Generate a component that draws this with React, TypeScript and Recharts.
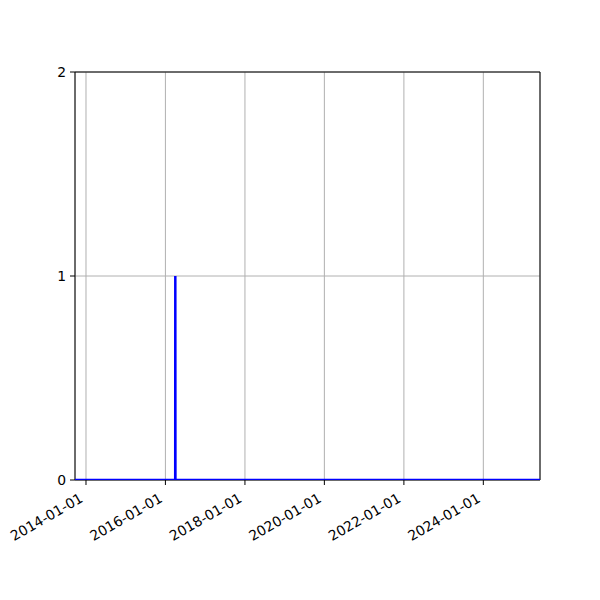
import React from "react";
import {
  LineChart,
  Line,
  XAxis,
  YAxis,
  CartesianGrid,
  ReferenceArea,
} from "recharts";

// dates and values
const dates = ["2013-09-22", "2016-03-31", "2016-04-01", "2016-04-02", "2025-06-05"];
const counts = [0, 0, 1, 0, 0];
const xTicks = ["2014-01-01", "2016-01-01", "2018-01-01", "2020-01-01", "2022-01-01", "2024-01-01"];
const yTicks = [0, 1, 2];

const toTime = (d: string) => Date.parse(d + "T00:00:00Z");

const data = dates.map((d, i) => ({ t: toTime(d), v: counts[i] }));
const xMin = toTime(dates[0]);
const xMax = toTime(dates[dates.length - 1]);

const fmt = (t: number) => new Date(t).toISOString().slice(0, 10);

const DateTick = (props: any) => {
  const { x, y, payload } = props;
  return (
    <g transform={`translate(${x - 2},${y + 16})`}>
      <text
        x={0}
        y={0}
        textAnchor="end"
        fontSize={13.9}
        fontFamily="DejaVu Sans"
        fill="#000"
        transform="rotate(-30)"
      >
        {fmt(payload.value)}
      </text>
    </g>
  );
};

const App = () => {
  return (
    <div style={{ position: "absolute", left: 0, top: 0 }}>
      <LineChart
        width={600}
        height={600}
        data={data}
        margin={{ top: 72, right: 60, left: 15, bottom: 90 }}
      >
        <CartesianGrid stroke="#b0b0b0" strokeWidth={1} />
        <ReferenceArea
          x1={xMin}
          x2={xMax}
          y1={0}
          y2={2}
          fill="none"
          stroke="#000"
          strokeWidth={1}
        />
        <XAxis
          dataKey="t"
          type="number"
          scale="time"
          domain={[xMin, xMax]}
          ticks={xTicks.map(toTime)}
          tick={<DateTick />}
          tickLine={{ stroke: "#000" }}
          tickSize={5}
          tickMargin={0}
          axisLine={false}
          interval={0}
          allowDataOverflow
        />
        <YAxis
          type="number"
          domain={[0, 2]}
          ticks={yTicks}
          width={60}
          tick={{ fontSize: 13.9, fill: "#000", fontFamily: "DejaVu Sans" }}
          tickLine={{ stroke: "#000" }}
          tickSize={5}
          tickMargin={4}
          axisLine={false}
          allowDataOverflow
        />
        <Line
          type="linear"
          dataKey="v"
          stroke="#0000ff"
          strokeWidth={2.5}
          dot={false}
          isAnimationActive={false}
        />
      </LineChart>
    </div>
  );
};

export default App;
